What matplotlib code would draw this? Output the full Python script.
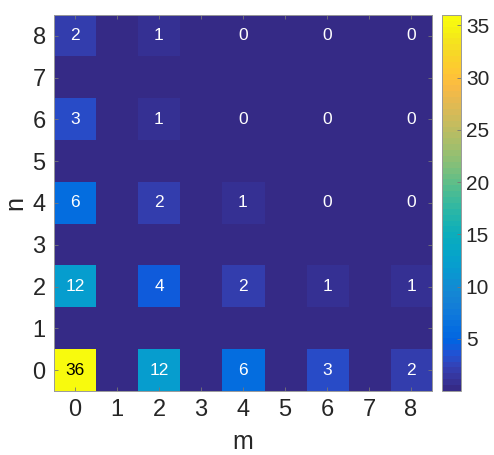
import numpy as np
import matplotlib

matplotlib.use("Agg")
import matplotlib.pyplot as plt
from matplotlib.colors import LinearSegmentedColormap

# grid indices
M_VALUES = [0, 1, 2, 3, 4, 5, 6, 7, 8]
N_VALUES = [0, 1, 2, 3, 4, 5, 6, 7, 8]

# counts at the even (m, n) positions; rows are n = 0, 2, 4, 6, 8
EVEN_M = [0, 2, 4, 6, 8]
EVEN_N = [0, 2, 4, 6, 8]
COUNTS = [
    [36, 12, 6, 3, 2],
    [12, 4, 2, 1, 1],
    [6, 2, 1, 0, 0],
    [3, 1, 0, 0, 0],
    [2, 1, 0, 0, 0],
]
CBAR_TICKS = [5, 10, 15, 20, 25, 30, 35]

# MATLAB parula (subsampled)
PARULA = [
    (0.2081, 0.1663, 0.5292), (0.2123, 0.2138, 0.6270), (0.1959, 0.2645, 0.7279),
    (0.1253, 0.3242, 0.8303), (0.0117, 0.3875, 0.8820), (0.0165, 0.4266, 0.8786),
    (0.0498, 0.4586, 0.8641), (0.0723, 0.4887, 0.8467), (0.0793, 0.5200, 0.8312),
    (0.0641, 0.5570, 0.8240), (0.0343, 0.5966, 0.8199), (0.0239, 0.6287, 0.8038),
    (0.0228, 0.6535, 0.7768), (0.0384, 0.6743, 0.7436), (0.0843, 0.6928, 0.7062),
    (0.1453, 0.7098, 0.6646), (0.2178, 0.7250, 0.6193), (0.3022, 0.7376, 0.5712),
    (0.3953, 0.7459, 0.5244), (0.4871, 0.7491, 0.4840), (0.5709, 0.7485, 0.4494),
    (0.6473, 0.7456, 0.4188), (0.7184, 0.7411, 0.3905), (0.7858, 0.7356, 0.3633),
    (0.8507, 0.7299, 0.3360), (0.9139, 0.7258, 0.3063), (0.9739, 0.7314, 0.2666),
    (0.9990, 0.7653, 0.2164), (0.9880, 0.8066, 0.1794), (0.9697, 0.8481, 0.1475),
    (0.9589, 0.8949, 0.1132), (0.9661, 0.9514, 0.0755), (0.9763, 0.9831, 0.0538),
]
parula = LinearSegmentedColormap.from_list("parula", PARULA, N=64)

AXIS_GREY = "#262626"
plt.rcParams["font.family"] = ["Liberation Sans", "DejaVu Sans"]

grid = np.zeros((len(N_VALUES), len(M_VALUES)))
for i, n in enumerate(EVEN_N):
    for j, m in enumerate(EVEN_M):
        grid[n, m] = COUNTS[i][j]

fig = plt.figure(figsize=(4.94, 4.55), dpi=100)
ax = fig.add_axes([0.1093, 0.1407, 0.7652, 0.8264])
cax = fig.add_axes([0.8947, 0.1407, 0.0385, 0.8264])

im = ax.imshow(grid, cmap=parula, origin="lower", vmin=0, vmax=36,
               aspect="auto", interpolation="nearest")

for i, n in enumerate(EVEN_N):
    for j, m in enumerate(EVEN_M):
        v = COUNTS[i][j]
        ax.text(m, n, f"{v}", ha="center", va="center", fontsize=12.5,
                color="black" if v > 30 else "white")

ax.set_xticks(M_VALUES)
ax.set_yticks(N_VALUES)
ax.set_xlabel("m", fontsize=18, color=AXIS_GREY, labelpad=6)
ax.set_ylabel("n", fontsize=18, color=AXIS_GREY, labelpad=4)
ax.tick_params(direction="in", length=3, width=0.6, labelsize=17, pad=6,
               colors="#777777", labelcolor=AXIS_GREY,
               top=True, right=True)
for s in ax.spines.values():
    s.set_color("#999999")
    s.set_linewidth(0.7)

cb = fig.colorbar(im, cax=cax, ticks=CBAR_TICKS)
cb.ax.tick_params(direction="in", length=3, width=0.6, labelsize=15,
                  colors="#777777", labelcolor=AXIS_GREY)
cb.outline.set_edgecolor("#999999")
cb.outline.set_linewidth(0.7)

fig.savefig("out.png", dpi=100)
